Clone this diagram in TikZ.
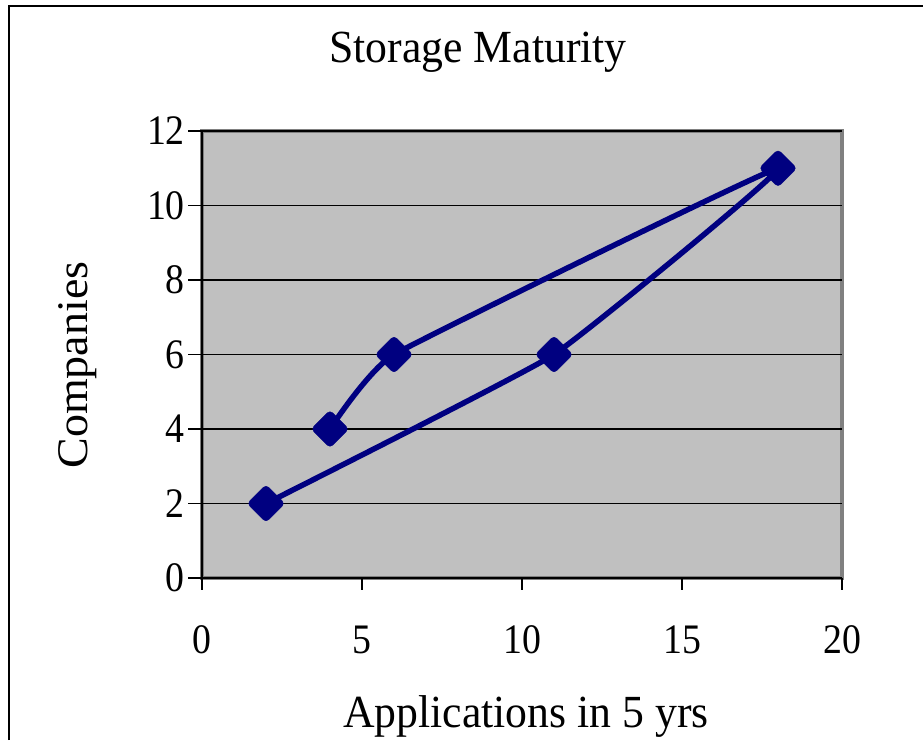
\documentclass[tikz,border=0pt]{standalone}
\usepackage{fontspec}
\setmainfont{Liberation Serif}
\usetikzlibrary{shapes.geometric}
\definecolor{plotgray}{RGB}{192,192,192}
\definecolor{framegray}{RGB}{128,128,128}
\definecolor{seriesblue}{RGB}{0,0,128}

\begin{document}
\begin{tikzpicture}[x=1pt,y=-1pt]
    \tikzstyle{datapt} = [diamond, fill=seriesblue, draw=seriesblue, inner sep=0pt,
        minimum width=38pt, minimum height=38pt, rounded corners=4pt]
    \tikzstyle{ticklbl} = [font=\fontsize{42}{42}\selectfont, inner sep=0pt, xscale=0.9]
    \tikzstyle{bigtext} = [font=\fontsize{46}{46}\selectfont, inner sep=0pt, xscale=0.95]
    \useasboundingbox (0,0) rectangle (923,740);
    \draw[line width=2pt] (9,740) -- (9,6) -- (923,6);
    \node[bigtext, anchor=base] (title) at (478,62) {Storage Maturity};
    \node[bigtext, anchor=base] (xlabel) at (526,727) {Applications in 5 yrs};
    \node[bigtext, rotate=90] (ylabel) at (78,365) {Companies};
    \begin{scope}[shift={(202,578)}, x=32pt, y=37.25pt]
        % plot area
        \fill[plotgray] (0,0) rectangle (20,12);
        \draw[framegray, line width=4pt] (0,0) rectangle (20,12);
        \foreach \v in {2,4,...,12}
            \draw[line width=1.2pt] (0,\v) -- (20,\v);
        \draw[line width=1.2pt] (0,12) -- (0,0) -- (20,0);
        \foreach \v in {0,2,...,12} {
            \draw[line width=1.2pt] ([xshift=-14pt]0,\v) -- (0,\v);
            \node[ticklbl, anchor=east] (ytick\v) at ([xshift=-17pt]0,\v) {\v};
        }
        \foreach \v in {0,5,...,20} {
            \draw[line width=1.2pt] (\v,0) -- ([yshift=-12pt]\v,0);
            \node[ticklbl] (xtick\v) at ([yshift=-62pt]\v,0) {\v};
        }
        % series
        \coordinate (d2) at (2,2);
        \coordinate (d4) at (4,4);
        \coordinate (d6) at (6,6);
        \coordinate (d11) at (11,6);
        \coordinate (d18) at (18,11);
        \draw[seriesblue, line width=5.5pt, line join=round]
            plot[smooth, tension=0.2] coordinates {(d4) (d6) (d18) (d11) (d2)};
        \foreach \p in {d2,d4,d6,d11,d18}
            \node[datapt] (m\p) at (\p) {};
    \end{scope}
\end{tikzpicture}
\end{document}
